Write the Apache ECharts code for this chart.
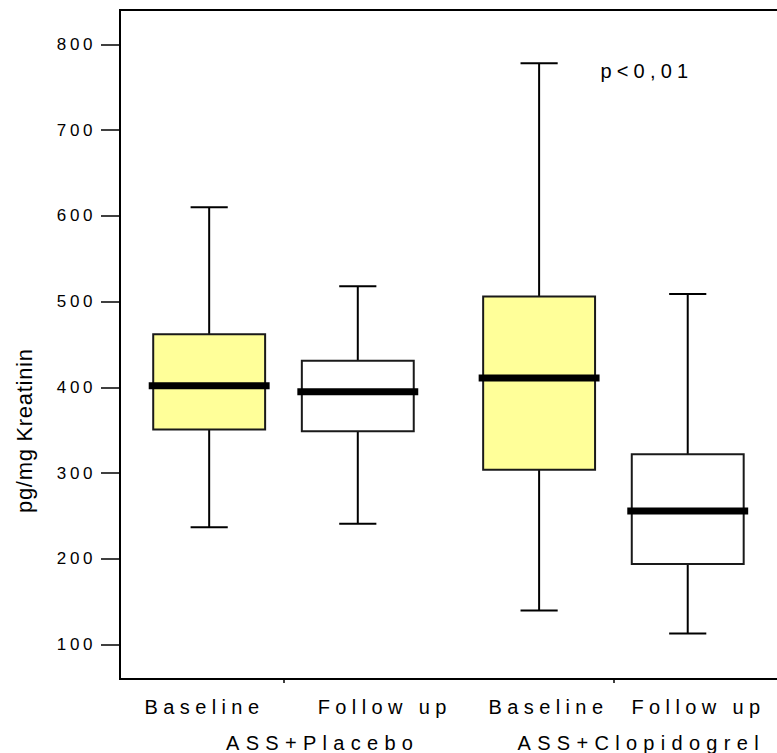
<!DOCTYPE html>
<html>
<head>
<meta charset="utf-8">
<title>pg/mg Kreatinin – ASS+Placebo vs ASS+Clopidogrel</title>
<script src="https://cdn.jsdelivr.net/npm/echarts@6/dist/echarts.min.js"></script>
<style>
  html, body { margin: 0; padding: 0; background: #fff; }
  #chart { width: 777px; height: 753px; }
</style>
</head>
<body>
<div id="chart"></div>
<script>
// ---- data -------------------------------------------------------------
const groups      = ['ASS+Placebo', 'ASS+Clopidogrel'];
const categories  = ['Baseline', 'Follow up', 'Baseline', 'Follow up'];
const groupOfBox  = [0, 0, 1, 1];
const whiskerLow  = [237, 241, 140, 113];
const quartile1   = [351, 349, 304, 194];
const medians     = [402, 395, 411, 256];
const quartile3   = [462, 431, 506, 322];
const whiskerHigh = [610, 518, 778, 509];
const yTicks      = [100, 200, 300, 400, 500, 600, 700, 800];
const yTitle      = 'pg/mg Kreatinin';
const pLabel      = 'p<0,01';

// ---- layout -----------------------------------------------------------
const FONT = "'Liberation Sans', Arial, sans-serif";
const X_MAX = 4.71;          // x-axis extent in box-spacing units
const GROUP_START = 1.1;     // centre of the first group
const GROUP_STEP = 2.22;     // distance between group centres
const BOX_W = 0.753;         // box width (units)
const CAP_W = 0.25;          // whisker cap width (units)
const MEDIAN_OVERHANG = 4.5; // px the median bar sticks out each side
const MEDIAN_THICK = 7;

const groupCenters = groups.map((g, i) => GROUP_START + i * GROUP_STEP);
// position of each box: left / right of its group centre
const boxX = categories.map((c, i) => {
  const inGroup = groupOfBox.slice(0, i).filter(g => g === groupOfBox[i]).length;
  return groupCenters[groupOfBox[i]] + (inGroup === 0 ? -0.5 : 0.5);
});
const boxFill = categories.map(c => c === 'Baseline' ? '#ffff99' : '#ffffff');

const seriesData = categories.map((c, i) => [
  boxX[i], whiskerLow[i], quartile1[i], medians[i], quartile3[i], whiskerHigh[i], i
]);

function renderBox(params, api) {
  const x = api.value(0);
  const idx = api.value(6);
  const pLow = api.coord([x, api.value(1)]);
  const pQ1 = api.coord([x, api.value(2)]);
  const pMed = api.coord([x, api.value(3)]);
  const pQ3 = api.coord([x, api.value(4)]);
  const pHigh = api.coord([x, api.value(5)]);
  const halfW = api.size([BOX_W, 0])[0] / 2;
  const capHalf = api.size([CAP_W, 0])[0] / 2;
  const cx = pMed[0];
  const line = { stroke: '#000', lineWidth: 2 };
  return {
    type: 'group',
    children: [
      { type: 'line', shape: { x1: cx, y1: pQ3[1], x2: cx, y2: pHigh[1] }, style: line },
      { type: 'line', shape: { x1: cx, y1: pQ1[1], x2: cx, y2: pLow[1] }, style: line },
      { type: 'line', shape: { x1: cx - capHalf, y1: pHigh[1], x2: cx + capHalf, y2: pHigh[1] }, style: line },
      { type: 'line', shape: { x1: cx - capHalf, y1: pLow[1], x2: cx + capHalf, y2: pLow[1] }, style: line },
      {
        type: 'rect',
        shape: { x: cx - halfW, y: pQ3[1], width: 2 * halfW, height: pQ1[1] - pQ3[1] },
        style: { fill: boxFill[idx], stroke: '#1a1a1a', lineWidth: 2 }
      },
      {
        type: 'rect',
        shape: {
          x: cx - halfW - MEDIAN_OVERHANG, y: pMed[1] - MEDIAN_THICK / 2,
          width: 2 * halfW + 2 * MEDIAN_OVERHANG, height: MEDIAN_THICK
        },
        style: { fill: '#000' }
      }
    ]
  };
}

// label anchors (px) for the category / group captions under the axis
const catLabelX = [144.5, 317.7, 488.5, 631.4];
const groupLabelX = [226, 517.5];
const textBase = { fill: '#000', font: '20px ' + FONT, textAlign: 'left', textVerticalAlign: 'middle' };

const graphics = [];
categories.forEach((c, i) => graphics.push({
  type: 'text', x: catLabelX[i], y: 706.7, silent: true,
  style: Object.assign({ text: c }, textBase)
}));
groups.forEach((g, i) => graphics.push({
  type: 'text', x: groupLabelX[i], y: 743, silent: true,
  style: Object.assign({ text: g }, textBase)
}));
graphics.push({
  type: 'text', x: 600.4, y: 70.5, silent: true,
  style: Object.assign({ text: pLabel }, textBase)
});
graphics.push({
  type: 'text', x: 24.5, y: 430.7, rotation: Math.PI / 2, silent: true,
  style: { text: yTitle, fill: '#000', font: '22px ' + FONT, textAlign: 'center', textVerticalAlign: 'middle' }
});

const chart = echarts.init(document.getElementById('chart'), null, { renderer: 'svg' });
chart.setOption({
  animation: false,
  backgroundColor: '#fff',
  grid: {
    left: 120, top: 10, width: 700, height: 669,
    outerBoundsMode: 'none', containLabel: false,
    show: true, borderColor: '#000', borderWidth: 2, backgroundColor: 'transparent'
  },
  xAxis: {
    type: 'value', min: 0, max: X_MAX,
    axisLine: { show: true, onZero: false, lineStyle: { color: '#000', width: 2 } },
    axisTick: { show: true, customValues: groupCenters, length: 4, lineStyle: { color: '#000', width: 1.5 } },
    axisLabel: { show: false },
    splitLine: { show: false }
  },
  yAxis: {
    type: 'value', min: 60, max: 840,
    axisLine: { show: true, lineStyle: { color: '#000', width: 2 } },
    axisTick: { show: true, customValues: yTicks, length: 19, lineStyle: { color: '#000', width: 1.5 } },
    axisLabel: {
      show: true, customValues: yTicks, margin: 24,
      color: '#000', fontSize: 17, fontFamily: FONT
    },
    splitLine: { show: false }
  },
  series: [{
    type: 'custom',
    renderItem: renderBox,
    data: seriesData,
    encode: { x: 0, y: [1, 2, 3, 4, 5] }
  }],
  graphic: graphics
});

// spaced-out lettering for tick labels and captions
function applyLetterSpacing() {
  document.querySelectorAll('#chart text').forEach(t => {
    const s = t.textContent;
    let ls = '5.2px';
    if (s === yTitle) ls = '0.7px';
    else if (/^\d+$/.test(s)) ls = '3.6px';
    else if (groups.includes(s)) ls = '6.3px';
    else if (categories.includes(s)) ls = '5.4px';
    t.setAttribute('letter-spacing', ls);
  });
}
applyLetterSpacing();
chart.on('finished', applyLetterSpacing);
</script>
</body>
</html>
